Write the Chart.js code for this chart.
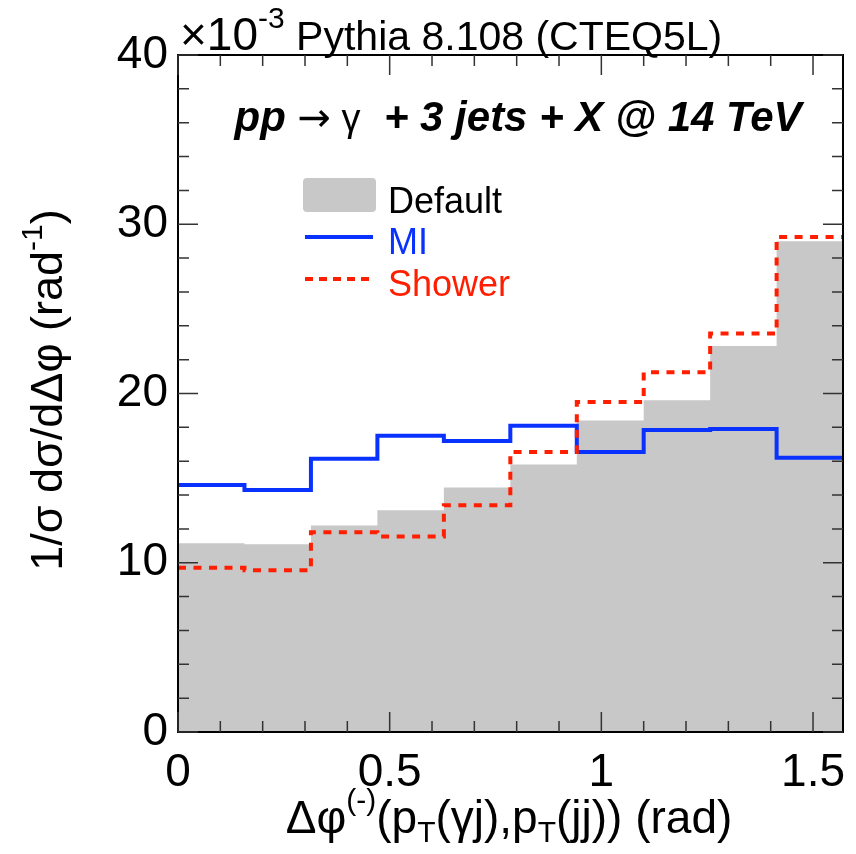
<!DOCTYPE html>
<html>
<head>
<meta charset="utf-8">
<script src="https://cdn.jsdelivr.net/npm/chart.js@4/dist/chart.umd.min.js"></script>
<style>
  html, body { margin: 0; padding: 0; background: #fff; }
  canvas { display: block; }
</style>
</head>
<body>
<canvas id="chart" width="856" height="854"></canvas>
<script>
// bin edges in rad (10 bins from 0 to pi/2)
const binEdges = [0, 0.157, 0.314, 0.471, 0.628, 0.785, 0.942, 1.100, 1.257, 1.414, 1.571];
// 1/sigma dsigma/dDphi, x10^-3
const defaultVals = [11.15, 11.1, 12.2, 13.1, 14.45, 15.8, 18.4, 19.6, 22.8, 29.0];
const miVals = [14.6, 14.3, 16.15, 17.5, 17.2, 18.1, 16.55, 17.85, 17.9, 16.2];
const showerVals = [9.7, 9.55, 11.8, 11.55, 13.4, 16.55, 19.5, 21.25, 23.55, 29.25];
const xTickVals = [0, 0.5, 1, 1.5];
const yTickVals = [0, 10, 20, 30, 40];

const FONT = '"Liberation Sans", Arial, Helvetica, sans-serif';
const SYM = '"DejaVu Sans", sans-serif';
const BLUE = '#0a32ff', RED = '#ff1e00';

// histogram outline: one point per left edge, plus the last right edge
function histPoints(vals) {
  const pts = vals.map((v, i) => ({ x: binEdges[i], y: v }));
  pts.push({ x: binEdges[binEdges.length - 1], y: vals[vals.length - 1] });
  return pts;
}

// draw a row of text pieces (sub/superscripts), aligned about x
function drawRich(ctx, x, y, parts, align) {
  let total = 0;
  parts.forEach(p => { ctx.font = p.font; p.w = ctx.measureText(p.t).width; total += p.w; });
  let cx = align === 'center' ? x - total / 2 : x;
  ctx.textAlign = 'left';
  ctx.textBaseline = 'alphabetic';
  parts.forEach(p => {
    ctx.font = p.font;
    ctx.fillStyle = p.color || '#000';
    ctx.fillText(p.t, cx, y + (p.dy || 0));
    cx += p.w;
  });
}

const decor = {
  id: 'decor',
  afterDatasetsDraw(chart) {
    const ctx = chart.ctx;
    const a = chart.chartArea;
    const xs = chart.scales.x, ys = chart.scales.y;
    ctx.save();
    // frame
    ctx.strokeStyle = '#000';
    ctx.lineWidth = 2;
    ctx.strokeRect(a.left, a.top, a.right - a.left, a.bottom - a.top);

    // inside ticks, all four sides
    ctx.lineWidth = 1.5;
    ctx.strokeStyle = '#333';
    ctx.beginPath();
    for (let v = 0; v <= 40.001; v += 2) {
      const py = ys.getPixelForValue(v);
      const len = (Math.round(v) % 10 === 0) ? 20 : 11;
      ctx.moveTo(a.left, py); ctx.lineTo(a.left + len, py);
      ctx.moveTo(a.right, py); ctx.lineTo(a.right - len, py);
    }
    for (let v = 0; v <= 1.571; v += 0.1) {
      const px = xs.getPixelForValue(v);
      const major = Math.abs(v * 2 - Math.round(v * 2)) < 1e-6;
      const len = major ? 20 : 11;
      ctx.moveTo(px, a.bottom); ctx.lineTo(px, a.bottom - len);
      ctx.moveTo(px, a.top); ctx.lineTo(px, a.top + len);
    }
    ctx.stroke();

    // header
    drawRich(ctx, 180, 50, [
      { t: '\u00d710', font: '46px ' + FONT },
      { t: '-3', font: '30px ' + FONT, dy: -22 },
      { t: ' Pythia 8.108 (CTEQ5L)', font: '41px ' + FONT }
    ], 'left');

    // process label
    drawRich(ctx, 518, 131, [
      { t: 'pp ', font: 'italic bold 42px ' + FONT },
      { t: '\u2192', font: '40px ' + SYM },
      { t: ' \u03b3', font: '38px ' + FONT },
      { t: '  + 3 jets + X @ 14 TeV', font: 'italic bold 42px ' + FONT }
    ], 'center');

    // legend
    ctx.fillStyle = '#c8c8c8';
    ctx.beginPath();
    ctx.roundRect(303, 178, 73, 34, 4);
    ctx.fill();
    ctx.lineWidth = 4;
    ctx.strokeStyle = BLUE;
    ctx.beginPath(); ctx.moveTo(305, 237); ctx.lineTo(373, 237); ctx.stroke();
    ctx.strokeStyle = RED;
    ctx.setLineDash([8, 6]);
    ctx.beginPath(); ctx.moveTo(305, 279); ctx.lineTo(373, 279); ctx.stroke();
    ctx.setLineDash([]);
    drawRich(ctx, 388, 213, [{ t: 'Default', font: '36px ' + FONT }], 'left');
    drawRich(ctx, 388, 254, [{ t: 'MI', font: '36px ' + FONT, color: BLUE }], 'left');
    drawRich(ctx, 388, 296, [{ t: 'Shower', font: '36px ' + FONT, color: RED }], 'left');

    // x title
    const big = '46px ' + FONT, small = '30px ' + FONT;
    drawRich(ctx, 509, 833, [
      { t: '\u0394\u03c6', font: big },
      { t: '(-)', font: small, dy: -23 },
      { t: '(p', font: big },
      { t: 'T', font: small, dy: 9 },
      { t: '(\u03b3j),p', font: big },
      { t: 'T', font: small, dy: 9 },
      { t: '(jj)) (rad)', font: big }
    ], 'center');

    // y title
    ctx.translate(62, 390);
    ctx.rotate(-Math.PI / 2);
    drawRich(ctx, 0, 0, [
      { t: '1/\u03c3 d\u03c3/d\u0394\u03c6 (rad', font: '45px ' + FONT },
      { t: '-1', font: small, dy: -20 },
      { t: ')', font: '45px ' + FONT }
    ], 'center');
    ctx.restore();
  }
};

new Chart(document.getElementById('chart').getContext('2d'), {
  type: 'line',
  data: {
    datasets: [
      {
        label: 'Shower',
        data: histPoints(showerVals),
        stepped: 'before',
        borderColor: RED,
        borderWidth: 4,
        borderDash: [8, 7.5],
        pointRadius: 0,
        fill: false,
        order: 0
      },
      {
        label: 'MI',
        data: histPoints(miVals),
        stepped: 'before',
        borderColor: BLUE,
        borderWidth: 4,
        pointRadius: 0,
        fill: false,
        order: 1
      },
      {
        label: 'Default',
        data: histPoints(defaultVals),
        stepped: 'before',
        borderWidth: 0,
        borderColor: 'rgba(0,0,0,0)',
        backgroundColor: '#c8c8c8',
        pointRadius: 0,
        fill: 'origin',
        order: 2
      }
    ]
  },
  options: {
    responsive: false,
    animation: false,
    layout: { padding: { top: 55, right: 13, left: 0, bottom: 0 } },
    plugins: { legend: { display: false }, tooltip: { enabled: false }, title: { display: false } },
    scales: {
      x: {
        type: 'linear',
        min: 0,
        max: 1.5708,
        grid: { display: false },
        border: { display: false },
        afterBuildTicks: s => { s.ticks = xTickVals.map(v => ({ value: v })); },
        afterFit: s => { s.height = 122; },
        ticks: {
          color: '#000', padding: 6, maxRotation: 0,
          font: { size: 46, family: FONT },
          callback: v => String(v)
        }
      },
      y: {
        min: 0,
        max: 40,
        grid: { display: false },
        border: { display: false },
        afterBuildTicks: s => { s.ticks = yTickVals.map(v => ({ value: v })); },
        afterFit: s => { s.width = 178; },
        ticks: { color: '#000', padding: 2, font: { size: 46, family: FONT } }
      }
    }
  },
  plugins: [decor]
});
</script>
</body>
</html>
